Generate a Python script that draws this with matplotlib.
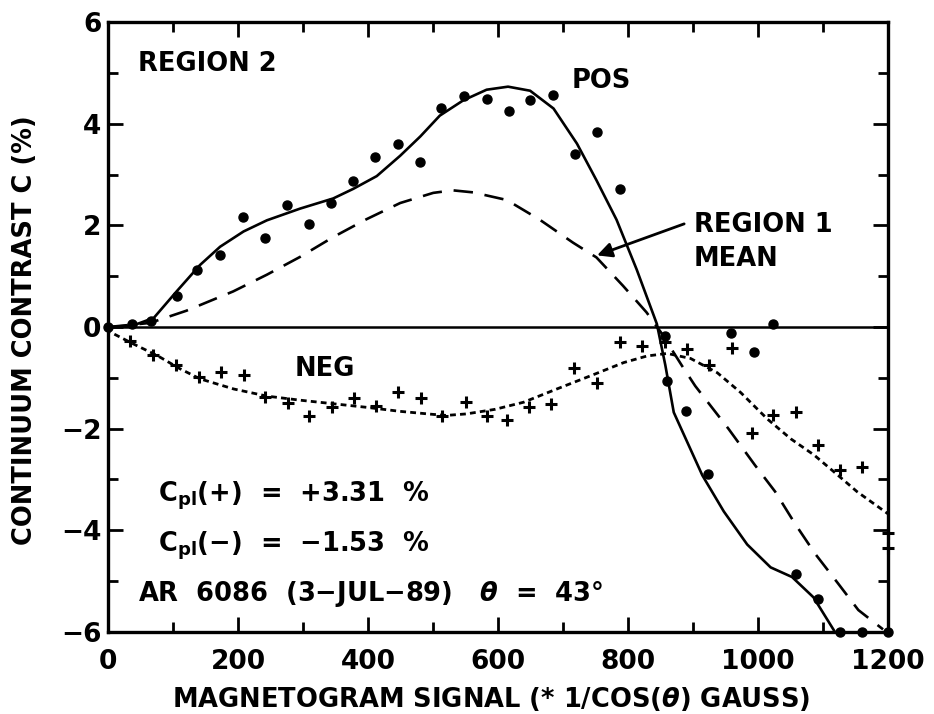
import numpy as np
import matplotlib
matplotlib.use("Agg")
import matplotlib.pyplot as plt

plt.rcParams['font.family'] = ['DejaVu Sans']
plt.rcParams['font.weight'] = 'bold'
plt.rcParams['axes.labelweight'] = 'bold'
plt.rcParams['mathtext.fontset'] = 'dejavusans'
plt.rcParams['lines.scale_dashes'] = False

# measured points, positive polarity (dots)
pos_x = [0, 36, 66, 105, 137, 172, 207, 241, 275, 309, 343, 377, 411, 445, 479,
         512, 548, 582, 616, 649, 684, 718, 752, 788, 856, 859, 889, 922, 958,
         993, 1022, 1058, 1092, 1126, 1160, 1200]
pos_y = [0.0, 0.05, 0.12, 0.62, 1.12, 1.41, 2.17, 1.76, 2.40, 2.03, 2.45, 2.88,
         3.35, 3.60, 3.24, 4.31, 4.54, 4.49, 4.26, 4.46, 4.56, 3.41, 3.83, 2.71,
         -0.18, -1.07, -1.66, -2.90, -0.12, -0.50, 0.05, -4.86, -5.35, -6.0,
         -6.0, -6.0]

# measured points, negative polarity (crosses)
neg_x = [33, 69, 104, 139, 173, 208, 241, 276, 309, 344, 378, 412, 446, 481,
         514, 551, 583, 614, 647, 681, 716, 752, 788, 821, 856, 890, 924, 960,
         990, 1023, 1058, 1092, 1126, 1160, 1200, 1200]
neg_y = [-0.28, -0.55, -0.75, -0.99, -0.88, -0.95, -1.37, -1.50, -1.76, -1.58,
         -1.39, -1.56, -1.27, -1.39, -1.76, -1.47, -1.76, -1.83, -1.58, -1.52,
         -0.80, -1.10, -0.29, -0.38, -0.30, -0.44, -0.75, -0.42, -2.09, -1.73,
         -1.67, -2.32, -2.81, -2.76, -4.05, -4.35]

# fitted curve for POS (solid)
pos_fit_x = [0, 38, 70, 105, 141, 172, 208, 244, 295, 346, 377, 413, 449, 480,
             510, 546, 582, 615, 649, 685, 721, 751, 782, 813, 844, 857, 870,
             914, 947, 983, 1019, 1052, 1085, 1116, 1120]
pos_fit_y = [0.0, 0.03, 0.18, 0.70, 1.22, 1.58, 1.88, 2.10, 2.33, 2.53, 2.72,
             2.97, 3.37, 3.75, 4.16, 4.46, 4.67, 4.73, 4.65, 4.30, 3.61, 2.89,
             2.11, 1.13, 0.06, -0.75, -1.68, -2.92, -3.63, -4.28, -4.73, -4.92,
             -5.32, -5.96, -6.05]

# REGION 1 mean (dashed)
reg1_x = [0, 64, 120, 192, 244, 295, 346, 397, 449, 500, 530, 561, 613, 664,
          715, 751, 792, 828, 850, 883, 903, 954, 995, 1026, 1057, 1088, 1123,
          1154, 1180, 1192]
reg1_y = [0.0, 0.08, 0.32, 0.70, 1.03, 1.38, 1.77, 2.12, 2.44, 2.64, 2.69, 2.65,
          2.50, 2.11, 1.66, 1.37, 0.81, 0.29, -0.10, -0.77, -1.16, -2.0, -2.72,
          -3.24, -3.88, -4.47, -5.05, -5.57, -5.83, -5.95]

# fitted curve for NEG (dotted)
neg_fit_x = [0, 3, 38, 75, 110, 141, 193, 244, 295, 346, 397, 449, 500, 520,
             551, 595, 639, 690, 742, 793, 829, 860, 896, 937, 973, 1014, 1050,
             1086, 1122, 1152, 1200]
neg_fit_y = [0.0, -0.10, -0.33, -0.56, -0.82, -1.02, -1.22, -1.36, -1.44, -1.51,
             -1.58, -1.66, -1.72, -1.74, -1.71, -1.62, -1.48, -1.22, -0.96,
             -0.70, -0.57, -0.52, -0.62, -0.90, -1.29, -1.81, -2.20, -2.52,
             -2.91, -3.24, -3.68]

x_ticks = [0, 200, 400, 600, 800, 1000, 1200]
y_ticks = [-6, -4, -2, 0, 2, 4, 6]

fig = plt.figure(figsize=(9.34, 7.14), dpi=100)
ax = fig.add_axes([0.116, 0.115, 0.835, 0.854])

ax.axhline(0, color='black', lw=1.8)
ax.plot(pos_fit_x, pos_fit_y, color='black', lw=1.9, solid_joinstyle='round')
ax.plot(reg1_x, reg1_y, color='black', lw=1.9, dashes=(14, 8.5))
ax.plot(neg_fit_x, neg_fit_y, color='black', lw=2.0, dashes=(4.2, 3.0))
ax.plot(pos_x, pos_y, 'o', color='black', ms=6.5, clip_on=False)
ax.plot(neg_x, neg_y, '+', color='black', ms=8.5, mew=2.2, clip_on=False)

ax.set_xlim(0, 1200)
ax.set_ylim(-6, 6)
ax.set_xticks(x_ticks)
ax.set_yticks(y_ticks)
ax.set_xticks(np.arange(100, 1200, 200), minor=True)
ax.set_yticks(np.arange(-5, 6, 2), minor=True)
ax.set_yticklabels([str(v).replace('-', '\u2212') for v in y_ticks])
ax.tick_params(which='both', direction='in', top=True, right=True,
               width=2, labelsize=19)
ax.tick_params(which='major', length=11)
ax.tick_params(which='minor', length=7)
ax.tick_params(axis='x', pad=12)
ax.tick_params(axis='y', pad=5)
for s in ax.spines.values():
    s.set_linewidth(2.4)

ax.set_xlabel(r'MAGNETOGRAM SIGNAL (* 1/COS($\theta$) GAUSS)', fontsize=18.5)
ax.set_ylabel('CONTINUUM CONTRAST C (%)', fontsize=18.5)
ax.xaxis.set_label_coords(0.491, -0.087)
ax.yaxis.set_label_coords(-0.09, 0.495)

fs = 18.5
ax.text(46, 5.18, 'REGION 2', fontsize=fs, va='center', ha='left')
ax.text(713, 4.85, 'POS', fontsize=fs, va='center', ha='left')
ax.text(901, 2.01, 'REGION 1', fontsize=fs, va='center', ha='left')
ax.text(901, 1.33, 'MEAN', fontsize=fs, va='center', ha='left')
ax.annotate('', xy=(752, 1.41), xytext=(886, 2.03),
            arrowprops=dict(arrowstyle='-|>', color='black', lw=2,
                            mutation_scale=22, shrinkA=0, shrinkB=0))
ax.text(287, -0.82, 'NEG', fontsize=fs, va='center', ha='left')
ax.text(77, -3.32, 'C$_{\\mathbf{pl}}$(+)  =  +3.31  %', fontsize=fs,
        va='center', ha='left')
ax.text(77, -4.30, 'C$_{\\mathbf{pl}}$(\u2212)  =  \u22121.53  %', fontsize=fs,
        va='center', ha='left')
ax.text(46, -5.26, 'AR  6086  (3\u2212JUL\u221289)   $\\theta$  =  43\u00b0',
        fontsize=fs, va='center', ha='left')

fig.savefig('out.png', dpi=100)
